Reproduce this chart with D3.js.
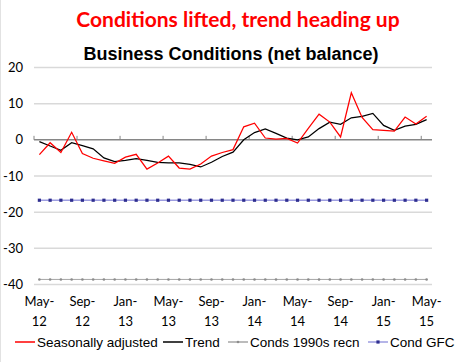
<!DOCTYPE html>
<html>
<head>
<meta charset="utf-8">
<script src="https://cdn.jsdelivr.net/npm/d3@7"></script>
<style>
  body { margin: 0; background: #fff; }
  svg { display: block; }
</style>
</head>
<body>
<script>
// months May-12 .. May-15
var months = ["May-12","Jun-12","Jul-12","Aug-12","Sep-12","Oct-12","Nov-12","Dec-12",
  "Jan-13","Feb-13","Mar-13","Apr-13","May-13","Jun-13","Jul-13","Aug-13","Sep-13","Oct-13","Nov-13","Dec-13",
  "Jan-14","Feb-14","Mar-14","Apr-14","May-14","Jun-14","Jul-14","Aug-14","Sep-14","Oct-14","Nov-14","Dec-14",
  "Jan-15","Feb-15","Mar-15","Apr-15","May-15"];

var seasAdj = [-4.1,-0.8,-3.5,2.1,-3.8,-5.1,-5.8,-6.5,-4.8,-4.0,-8.1,-6.4,-4.5,-7.8,-8.1,-6.7,-4.5,-3.5,-2.7,
  3.6,4.6,0.5,0.2,0.4,-0.9,3.2,7.1,4.9,0.8,13.0,6.2,2.8,2.6,2.4,6.3,4.4,6.5];
var trend = [-0.5,-1.7,-2.9,-0.8,-1.6,-2.5,-5.0,-6.0,-5.7,-5.2,-5.7,-6.2,-6.4,-6.4,-6.8,-7.5,-6.2,-4.6,-3.4,
  0.0,2.0,3.0,1.8,0.5,0.0,0.8,3.1,4.9,4.3,6.1,6.5,7.3,4.0,2.6,3.8,4.3,5.6];
var conds1990s = months.map(function(){ return -38.6; });
var condGFC = months.map(function(){ return -16.7; });

var yTicks = [20, 10, 0, -10, -20, -30, -40];
var legendNames = ["Seasonally adjusted", "Trend", "Conds 1990s recn", "Cond GFC"];

var width = 468, height = 362;

var svg = d3.select("body").append("svg")
    .attr("width", width)
    .attr("height", height);

// faint frame edge on the left
svg.append("line")
    .attr("x1", 0.5).attr("x2", 0.5)
    .attr("y1", 0).attr("y2", height)
    .attr("stroke", "#e2e2e2");

// titles
svg.append("text")
    .attr("x", 238).attr("y", 27)
    .attr("text-anchor", "middle")
    .style("font-family", "Lato, 'Open Sans', sans-serif")
    .style("font-weight", "bold")
    .style("font-size", "21px")
    .attr("fill", "#ff0000")
    .text("Conditions lifted, trend heading up");

svg.append("text")
    .attr("x", 231).attr("y", 59.5)
    .attr("text-anchor", "middle")
    .style("font-family", "'Liberation Sans', Arial, sans-serif")
    .style("font-weight", "bold")
    .style("font-size", "18px")
    .attr("fill", "#000")
    .text("Business Conditions (net balance)");

//scales
var x = d3.scaleBand()
    .domain(months)
    .range([34, 432])
    .padding(0);

var y = d3.scaleLinear()
    .domain([-40, 20])
    .range([284.5, 67.5]);

var cx = function(d, i){ return x(months[i]) + x.bandwidth() / 2; };

// gridlines
svg.append("g").selectAll("line")
    .data(yTicks.filter(function(t){ return t !== 0; }))
    .enter().append("line")
    .attr("x1", 34).attr("x2", 432)
    .attr("y1", function(d){ return y(d); })
    .attr("y2", function(d){ return y(d); })
    .attr("stroke", "#d9d9d9")
    .attr("stroke-width", 1.5);

// y labels
svg.append("g").selectAll("text")
    .data(yTicks)
    .enter().append("text")
    .attr("x", 23)
    .attr("y", function(d){ return y(d) + 4.5; })
    .attr("text-anchor", "end")
    .style("font-family", "Lato, sans-serif")
    .style("font-size", "13px")
    .attr("fill", "#000")
    .text(function(d){ return d; });

// zero (category) axis with upward ticks every 4 months
svg.append("line")
    .attr("x1", 34).attr("x2", 432)
    .attr("y1", y(0)).attr("y2", y(0))
    .attr("stroke", "#868686")
    .attr("stroke-width", 1.5);

var tickMonths = months.filter(function(d, i){ return i % 4 === 0; });
svg.append("g").selectAll("line")
    .data(tickMonths)
    .enter().append("line")
    .attr("x1", function(d){ return x(d); })
    .attr("x2", function(d){ return x(d); })
    .attr("y1", y(0))
    .attr("y2", y(0) - 4)
    .attr("stroke", "#868686")
    .attr("stroke-width", 1);

// x labels, two lines
var xLab = svg.append("g").selectAll("text")
    .data(tickMonths)
    .enter().append("text")
    .attr("text-anchor", "middle")
    .style("font-family", "Lato, sans-serif")
    .style("font-size", "13px")
    .attr("fill", "#000");
xLab.append("tspan")
    .attr("x", function(d){ return x(d) + x.bandwidth() / 2; })
    .attr("y", 306)
    .text(function(d){ return d.split("-")[0] + "-"; });
xLab.append("tspan")
    .attr("x", function(d){ return x(d) + x.bandwidth() / 2; })
    .attr("y", 326)
    .text(function(d){ return d.split("-")[1]; });

var line = d3.line()
    .x(cx)
    .y(function(d){ return y(d); });

// 1990s recession
svg.append("path")
    .datum(conds1990s)
    .attr("d", line)
    .attr("fill", "none")
    .attr("stroke", "#a6a6a6")
    .attr("stroke-width", 1);
svg.append("g").selectAll("circle")
    .data(conds1990s)
    .enter().append("circle")
    .attr("cx", cx)
    .attr("cy", function(d){ return y(d); })
    .attr("r", 1.3)
    .attr("fill", "#8c8c8c");

// GFC
svg.append("path")
    .datum(condGFC)
    .attr("d", line)
    .attr("fill", "none")
    .attr("stroke", "#9d9de0")
    .attr("stroke-width", 1.5);
svg.append("g").selectAll("rect")
    .data(condGFC)
    .enter().append("rect")
    .attr("x", function(d, i){ return cx(d, i) - 1.6; })
    .attr("y", function(d){ return y(d) - 1.6; })
    .attr("width", 3.2).attr("height", 3.2)
    .attr("fill", "#2e2e8f");

// trend and seasonally adjusted
svg.append("path")
    .datum(trend)
    .attr("d", line)
    .attr("fill", "none")
    .attr("stroke", "#000")
    .attr("stroke-width", 1.25);

svg.append("path")
    .datum(seasAdj)
    .attr("d", line)
    .attr("fill", "none")
    .attr("stroke", "#ff0000")
    .attr("stroke-width", 1.25);

// legend
var legX = [15, 163, 228, 368];
var legColors = ["#ff0000", "#000", "#a6a6a6", "#9d9de0"];
var leg = svg.append("g").selectAll("g")
    .data(legendNames)
    .enter().append("g")
    .attr("transform", function(d, i){ return "translate(" + legX[i] + ",342)"; });
leg.append("line")
    .attr("x1", 0).attr("x2", 20)
    .attr("stroke", function(d, i){ return legColors[i]; })
    .attr("stroke-width", 1.5);
leg.filter(function(d, i){ return i === 2; }).append("circle")
    .attr("cx", 10).attr("r", 1.3).attr("fill", "#8c8c8c");
leg.filter(function(d, i){ return i === 3; }).append("rect")
    .attr("x", 8.4).attr("y", -1.6).attr("width", 3.2).attr("height", 3.2)
    .attr("fill", "#2e2e8f");
leg.append("text")
    .attr("x", 22).attr("y", 4.8)
    .style("font-family", "'Liberation Sans', Arial, sans-serif")
    .style("font-size", "13.5px")
    .attr("fill", "#000")
    .text(function(d){ return d; });
</script>
</body>
</html>
